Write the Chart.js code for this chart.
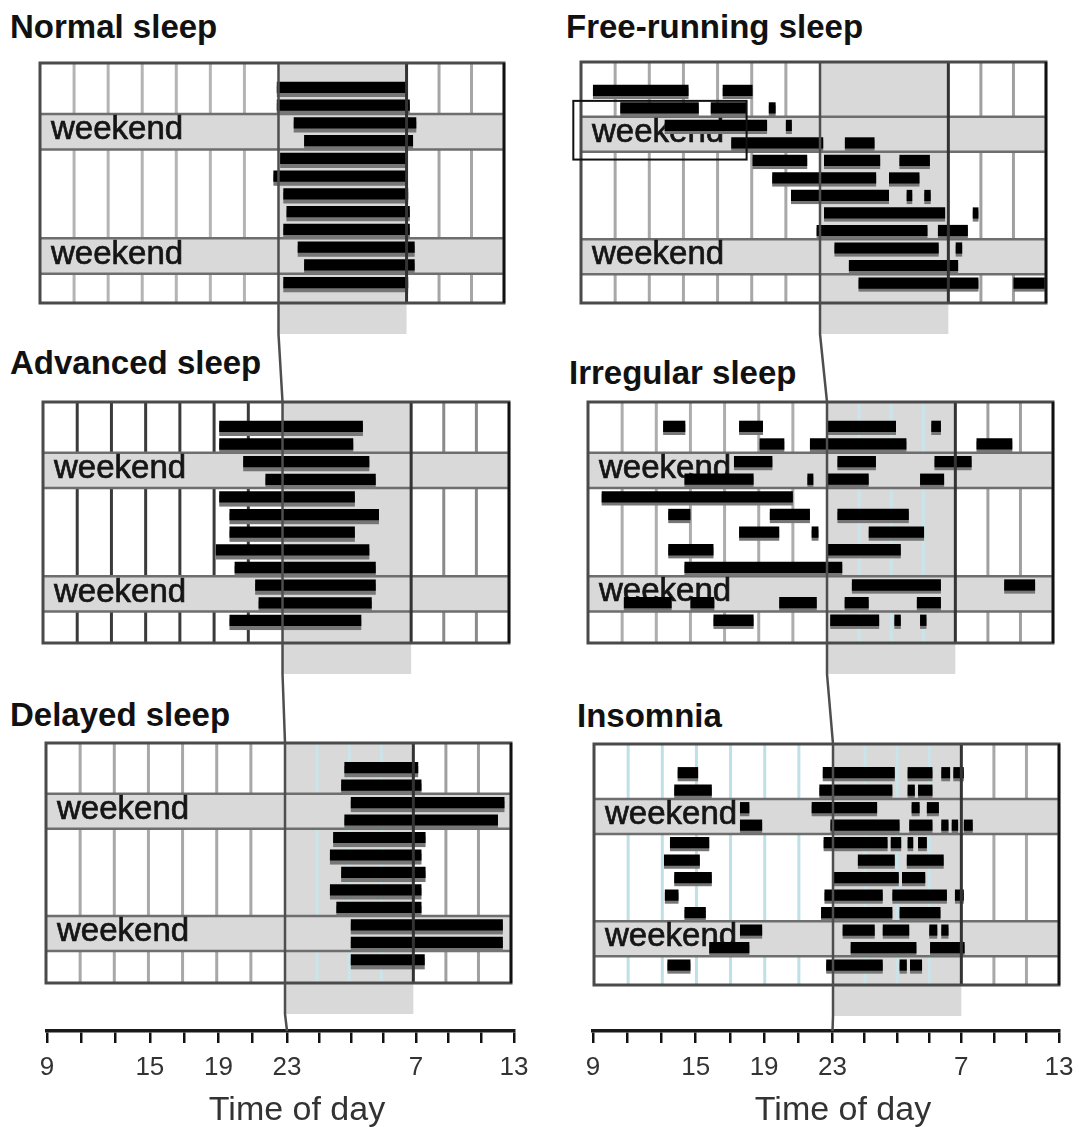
<!DOCTYPE html>
<html>
<head>
<meta charset="utf-8">
<title>Sleep patterns</title>
<script src="https://cdn.jsdelivr.net/npm/chart.js@4.4.1/dist/chart.umd.min.js"></script>
<style>
  html, body { margin: 0; padding: 0; background: #ffffff; }
  #page { position: relative; width: 1079px; height: 1127px; overflow: hidden; background: #ffffff; }
  #page canvas { position: absolute; display: block; }
  .ptitle { position: absolute; margin: 0; font-family: "Liberation Sans", Arial, sans-serif; font-weight: bold; font-size: 33px; line-height: 1; color: #111; white-space: nowrap; }
  .atitle { position: absolute; margin: 0; font-family: "Liberation Sans", Arial, sans-serif; font-size: 34px; line-height: 1; color: #333; white-space: nowrap; transform: translateX(-50%); }
</style>
</head>
<body>
<div id="page"></div>
<script>
// ---------------- data ----------------
// hours run continuously: 23 = 23h, 31 = 7h next morning, 37 = 13h next day
const hourBreaks = [9, 23, 31, 37];
const breakFractions = [0, 0.514, 0.790, 1];
const axisTickHours = [9, 11, 13, 15, 17, 19, 21, 23, 25, 27, 29, 31, 33, 35, 37];
const labelledHours = [9, 15, 19, 23, 31, 37];
const labelTexts = ['9', '15', '19', '23', '7', '13'];
const dayGridHours = [11, 13, 15, 17, 19, 21];
const nightGridHours = [25, 27, 29];
const morningGridHours = [33, 35];
const nightHours = [23, 31];
const weekendRows = [[2, 3], [9, 10]];
const weekendLabel = 'weekend';
const axisTitle = 'Time of day';
const freeRunningFrame = [8.55, 18.7, 0.6, 3.95];

const normalSleep = [
  [[22.9, 31.0]],
  [[22.9, 31.2]],
  [[23.95, 31.6]],
  [[24.6, 31.4]],
  [[23.1, 31.0]],
  [[22.7, 31.0]],
  [[23.3, 31.1]],
  [[23.5, 31.2]],
  [[23.3, 31.2]],
  [[24.2, 31.5]],
  [[24.6, 31.5]],
  [[23.3, 31.1]]
];

const freeRunningSleep = [
  [[9.7, 15.3], [17.3, 19.05]],
  [[11.3, 15.9], [16.6, 18.7], [20.0, 20.4]],
  [[13.9, 19.9], [21.0, 21.35]],
  [[17.8, 23.2], [24.55, 26.4]],
  [[19.05, 22.25], [23.25, 26.75], [27.95, 29.85]],
  [[20.2, 26.5], [27.3, 29.2]],
  [[21.3, 27.3], [28.4, 28.75], [29.5, 29.9]],
  [[23.25, 30.8], [32.5, 32.85]],
  [[22.8, 29.7], [30.35, 32.2]],
  [[23.9, 30.4], [31.45, 31.85]],
  [[24.8, 31.6]],
  [[25.4, 32.85], [35.0, 37.0]]
];

const advancedSleep = [
  [[19.3, 28.0]],
  [[19.3, 27.4]],
  [[20.7, 28.4]],
  [[22.0, 28.8]],
  [[19.3, 27.5]],
  [[19.9, 29.0]],
  [[19.9, 27.5]],
  [[19.1, 28.4]],
  [[20.2, 28.8]],
  [[21.4, 28.8]],
  [[21.6, 28.55]],
  [[19.9, 27.9]]
];

const irregularSleep = [
  [[13.4, 14.7], [17.85, 19.25], [23.0, 27.3], [29.5, 30.1]],
  [[19.05, 20.5], [22.0, 27.95], [32.3, 34.5]],
  [[17.55, 19.8], [23.65, 26.05], [29.7, 32.0]],
  [[14.65, 18.7], [21.85, 22.2], [23.0, 25.6], [28.8, 30.3]],
  [[9.8, 21.0]],
  [[13.7, 15.0], [19.65, 22.0], [23.65, 28.1]],
  [[17.85, 20.2], [22.1, 22.5], [25.6, 29.05]],
  [[13.7, 16.35], [23.0, 27.6]],
  [[14.65, 23.95]],
  [[24.55, 30.1], [34.0, 35.9]],
  [[11.1, 13.9], [15.0, 16.4], [20.2, 22.4], [24.1, 25.6], [28.6, 30.1]],
  [[16.35, 18.7], [23.2, 26.25], [27.2, 27.6], [28.8, 29.2]]
];

const delayedSleep = [
  [[26.7, 31.3]],
  [[26.5, 31.5]],
  [[27.1, 36.6]],
  [[26.7, 36.2]],
  [[26.0, 31.75]],
  [[25.8, 31.5]],
  [[26.5, 31.75]],
  [[25.8, 31.5]],
  [[26.2, 31.5]],
  [[27.1, 36.5]],
  [[27.1, 36.5]],
  [[27.1, 31.7]]
];

const insomnia = [
  [[13.9, 15.1], [22.4, 26.85], [27.65, 29.2], [29.75, 30.3], [30.5, 31.15]],
  [[13.7, 15.9], [22.2, 26.7], [27.65, 28.1], [28.3, 29.2]],
  [[17.55, 18.1], [21.75, 25.75], [27.9, 28.4], [28.85, 29.6]],
  [[17.55, 18.85], [22.85, 27.15], [27.75, 29.2], [29.75, 30.2], [30.4, 30.8], [31.15, 31.7]],
  [[13.45, 15.75], [22.45, 26.4], [26.6, 27.25], [27.65, 28.0], [28.3, 28.85]],
  [[13.1, 15.2], [24.55, 26.85], [27.6, 29.9]],
  [[13.7, 15.9], [23.05, 27.1], [27.3, 28.75]],
  [[13.15, 13.95], [22.5, 26.1], [26.7, 30.1], [30.6, 31.15]],
  [[14.3, 15.55], [22.3, 26.7], [27.15, 29.7]],
  [[17.55, 18.85], [23.6, 25.6], [26.1, 27.75], [29.0, 29.5], [29.75, 30.2]],
  [[15.75, 18.1], [24.1, 28.2], [29.05, 31.2]],
  [[13.3, 14.65], [22.6, 26.1], [27.15, 27.6], [27.8, 28.55]]
];

// ---------------- layout (page pixels) ----------------
const FONT = '"Liberation Sans", Arial, sans-serif';
const panels = [
  { title: 'Normal sleep', rows: normalSleep, box: [40, 63, 504, 303], tpos: [10, 10], yMin: -1.37, yMax: 12.15, col: 0,
    deco: { leftGrid: '#b4b4b4', rightGrid: '#a6a6a6', nightGrid: false, shadowDy: 4, frame: false } },
  { title: 'Free-running sleep', rows: freeRunningSleep, box: [581, 62, 1046, 303], tpos: [566, 10], yMin: -1.62, yMax: 12.14, col: 1,
    deco: { leftGrid: '#a8a8a8', rightGrid: '#a0a0a0', nightGrid: false, shadowDy: 3, frame: true } },
  { title: 'Advanced sleep', rows: advancedSleep, box: [43, 402, 509, 643], tpos: [10, 346], yMin: -1.38, yMax: 12.28, col: 0,
    deco: { leftGrid: '#3a3a3a', rightGrid: '#8a8a8a', nightGrid: false, shadowDy: 4, frame: false } },
  { title: 'Irregular sleep', rows: irregularSleep, box: [588, 402, 1053, 643], tpos: [569, 356], yMin: -1.38, yMax: 12.29, col: 1,
    deco: { leftGrid: '#adadad', rightGrid: '#a0a0a0', nightGrid: true, shadowDy: 3, frame: false } },
  { title: 'Delayed sleep', rows: delayedSleep, box: [46, 743, 511, 983], tpos: [10, 698], yMin: -1.41, yMax: 12.33, col: 0,
    deco: { leftGrid: '#a8a8a8', rightGrid: '#a0a0a0', nightGrid: true, shadowDy: 4, frame: false } },
  { title: 'Insomnia', rows: insomnia, box: [594, 744, 1059, 985], tpos: [577, 699], yMin: -1.64, yMax: 12.14, col: 1,
    deco: { leftGrid: '#bfe0e4', rightGrid: '#a8a8a8', nightGrid: true, shadowDy: 3, frame: false } }
];
const axes = [
  { l: 47, r: 514, y: 1031, col: 0, titleX: 297 },
  { l: 593, r: 1059, y: 1031, col: 1, titleX: 843 }
];
const AXIS_TITLE_TOP = 1091;
const SHADE_BELOW = 31;
const PAD = { left: 24, top: 4, right: 8, bottom: 40 };

// ---------------- piecewise time scale (hand-drawn axis is not uniform) ----------------
class PiecewiseScale extends Chart.LinearScale {
  _frac(v) {
    let i = 0;
    while (i < hourBreaks.length - 2 && v > hourBreaks[i + 1]) i++;
    return breakFractions[i] + (v - hourBreaks[i]) * (breakFractions[i + 1] - breakFractions[i]) / (hourBreaks[i + 1] - hourBreaks[i]);
  }
  _unfrac(f) {
    let i = 0;
    while (i < breakFractions.length - 2 && f > breakFractions[i + 1]) i++;
    return hourBreaks[i] + (f - breakFractions[i]) * (hourBreaks[i + 1] - hourBreaks[i]) / (breakFractions[i + 1] - breakFractions[i]);
  }
  getPixelForValue(value) {
    if (value === null || value === undefined || isNaN(value)) return NaN;
    return this.getPixelForDecimal(this._frac(value));
  }
  getValueForPixel(pixel) {
    return this._unfrac(this.getDecimalForPixel(pixel));
  }
}
PiecewiseScale.id = 'piecewise';
PiecewiseScale.defaults = Chart.LinearScale.defaults;
Chart.register(PiecewiseScale);

Chart.defaults.font.family = FONT;

// ---------------- decoration plugin ----------------
const sleepDecor = {
  id: 'sleepDecor',
  beforeDatasetsDraw(chart, args, o) {
    const { ctx, chartArea: a } = chart;
    const x = chart.scales.x, y = chart.scales.y;
    ctx.save();
    // night shading, running below the frame
    const xs = x.getPixelForValue(nightHours[0]), xe = x.getPixelForValue(nightHours[1]);
    ctx.fillStyle = '#d9d9d9';
    ctx.fillRect(xs, a.top, xe - xs, a.bottom - a.top + SHADE_BELOW);
    // vertical grid
    const vline = (h, color, w) => {
      const px = x.getPixelForValue(h);
      ctx.strokeStyle = color; ctx.lineWidth = w;
      ctx.beginPath(); ctx.moveTo(px, a.top); ctx.lineTo(px, a.bottom); ctx.stroke();
    };
    dayGridHours.forEach(h => vline(h, o.leftGrid, 3));
    morningGridHours.forEach(h => vline(h, o.rightGrid, 3));
    if (o.nightGrid) nightGridHours.forEach(h => vline(h, '#c9e5ea', 3));
    // weekend bands
    weekendRows.forEach(([r0, r1]) => {
      const yt = y.getPixelForValue(r0 - 0.5), yb = y.getPixelForValue(r1 + 0.5);
      ctx.fillStyle = '#d9d9d9';
      ctx.fillRect(a.left, yt, a.right - a.left, yb - yt);
      ctx.strokeStyle = '#6e6e6e'; ctx.lineWidth = 2.5;
      ctx.beginPath();
      ctx.moveTo(a.left, yt); ctx.lineTo(a.right, yt);
      ctx.moveTo(a.left, yb); ctx.lineTo(a.right, yb);
      ctx.stroke();
      ctx.fillStyle = '#151515';
      ctx.strokeStyle = '#151515';
      ctx.lineWidth = 0.7;
      ctx.font = '33px ' + FONT;
      ctx.textBaseline = 'alphabetic';
      ctx.textAlign = 'left';
      ctx.fillText(weekendLabel, a.left + 11, yb - 10);
      ctx.strokeText(weekendLabel, a.left + 11, yb - 10);
    });
    // soft grey misregistration shadow under each bar
    const meta = chart.getDatasetMeta(0);
    ctx.fillStyle = '#767676';
    meta.data.forEach(bar => {
      const p = bar.getProps(['x', 'y', 'base', 'height'], true);
      const l = Math.min(p.x, p.base), w = Math.abs(p.x - p.base);
      ctx.fillRect(l, p.y - p.height / 2 + o.shadowDy, w, p.height);
    });
    ctx.restore();
  },
  afterDatasetsDraw(chart, args, o) {
    const { ctx, chartArea: a } = chart;
    const x = chart.scales.x, y = chart.scales.y;
    ctx.save();
    // 7h line
    const p7 = x.getPixelForValue(nightHours[1]);
    ctx.strokeStyle = '#333'; ctx.lineWidth = 3;
    ctx.beginPath(); ctx.moveTo(p7, a.top); ctx.lineTo(p7, a.bottom); ctx.stroke();
    // frame
    ctx.strokeStyle = '#4a4a4a'; ctx.lineWidth = 3;
    ctx.strokeRect(a.left, a.top, a.right - a.left, a.bottom - a.top);
    ctx.strokeStyle = '#111'; ctx.lineWidth = 2.5;
    ctx.beginPath(); ctx.moveTo(a.right, a.top); ctx.lineTo(a.right, a.bottom); ctx.stroke();
    if (o.frame) {
      const [h0, h1, r0, r1] = freeRunningFrame;
      const fx0 = x.getPixelForValue(h0), fx1 = x.getPixelForValue(h1);
      const fy0 = y.getPixelForValue(r0), fy1 = y.getPixelForValue(r1);
      ctx.strokeStyle = '#111'; ctx.lineWidth = 2;
      ctx.strokeRect(fx0, fy0, fx1 - fx0, fy1 - fy0);
    }
    ctx.restore();
  }
};

// ---------------- build ----------------
const page = document.getElementById('page');
const built = [];

panels.forEach(p => {
  const [l, t, r, b] = p.box;
  const cv = document.createElement('canvas');
  const W = (r - l) + PAD.left + PAD.right, H = (b - t) + PAD.top + PAD.bottom;
  cv.width = W; cv.height = H;
  cv.style.width = W + 'px'; cv.style.height = H + 'px';
  cv.style.left = (l - PAD.left) + 'px'; cv.style.top = (t - PAD.top) + 'px';
  page.appendChild(cv);

  const data = [];
  p.rows.forEach((segs, row) => segs.forEach(s => data.push({ x: [s[0], s[1]], y: row })));

  const chart = new Chart(cv, {
    type: 'bar',
    data: { datasets: [{ data, backgroundColor: '#000000', borderWidth: 0, barPercentage: 0.64, categoryPercentage: 1 }] },
    options: {
      indexAxis: 'y',
      responsive: false,
      maintainAspectRatio: false,
      animation: false,
      events: [],
      layout: { padding: PAD },
      scales: {
        x: { type: 'piecewise', min: 9, max: 37, display: false },
        y: { type: 'linear', min: p.yMin, max: p.yMax, reverse: true, offset: false, display: false,
             ticks: { stepSize: 1, includeBounds: false } }
      },
      plugins: { legend: { display: false }, tooltip: { enabled: false }, sleepDecor: p.deco }
    },
    plugins: [sleepDecor]
  });
  built.push({ chart, left: l - PAD.left, top: t - PAD.top, panel: p });

  const tt = document.createElement('div');
  tt.className = 'ptitle';
  tt.textContent = p.title;
  tt.style.left = p.tpos[0] + 'px';
  tt.style.top = p.tpos[1] + 'px';
  page.appendChild(tt);
});

const axisCharts = [];
axes.forEach(ax => {
  const cv = document.createElement('canvas');
  const top = ax.y - 20;
  const W = (ax.r - ax.l) + 60, H = 1127 - top;
  cv.width = W; cv.height = H;
  cv.style.width = W + 'px'; cv.style.height = H + 'px';
  cv.style.left = (ax.l - 30) + 'px'; cv.style.top = top + 'px';
  page.appendChild(cv);
  const axisH = 1127 - ax.y;
  const chart = new Chart(cv, {
    type: 'scatter',
    data: { datasets: [{ data: [] }] },
    options: {
      responsive: false, maintainAspectRatio: false, animation: false, events: [],
      layout: { padding: { left: 30, right: 30, top: 18, bottom: 0 } },
      scales: {
        x: {
          type: 'piecewise', position: 'bottom', min: 9, max: 37,
          afterBuildTicks: s => { s.ticks = axisTickHours.map(v => ({ value: v })); },
          afterFit: s => { s.height = axisH; },
          grid: { drawOnChartArea: false, drawTicks: true, tickLength: 12, color: '#111', lineWidth: 2.5 },
          border: { display: true, color: '#1a1a1a', width: 3.5 },
          ticks: {
            autoSkip: false, maxRotation: 0, padding: 9, color: '#333',
            font: { family: FONT, size: 26 },
            callback: v => { const i = labelledHours.indexOf(v); return i >= 0 ? labelTexts[i] : ''; }
          },
          title: { display: false }
        },
        y: { display: false, min: 0, max: 1 }
      },
      plugins: { legend: { display: false }, tooltip: { enabled: false } }
    }
  });
  axisCharts.push({ chart, left: ax.l - 30, ax });

  const at = document.createElement('div');
  at.className = 'atitle';
  at.textContent = axisTitle;
  at.style.left = ax.titleX + 'px';
  at.style.top = AXIS_TITLE_TOP + 'px';
  page.appendChild(at);
});

// ---------------- the 23h guide line running through each column ----------------
const ov = document.createElement('canvas');
ov.width = 1079; ov.height = 1127;
ov.style.left = '0px'; ov.style.top = '0px'; ov.style.width = '1079px'; ov.style.height = '1127px';
ov.style.pointerEvents = 'none';
page.appendChild(ov);
const octx = ov.getContext('2d');
octx.strokeStyle = '#4e4e4e';
octx.lineWidth = 2.5;
[0, 1].forEach(col => {
  const pts = [];
  built.filter(bp => bp.panel.col === col).forEach(bp => {
    const c = bp.chart;
    const px = bp.left + c.scales.x.getPixelForValue(nightHours[0]);
    pts.push([px, bp.top + c.chartArea.top]);
    pts.push([px, bp.top + c.chartArea.bottom + SHADE_BELOW]);
  });
  const ac = axisCharts.find(a => a.ax.col === col);
  pts.push([ac.left + ac.chart.scales.x.getPixelForValue(nightHours[0]), ac.ax.y]);
  octx.beginPath();
  pts.forEach((q, i) => i ? octx.lineTo(q[0], q[1]) : octx.moveTo(q[0], q[1]));
  octx.stroke();
});
</script>
</body>
</html>
